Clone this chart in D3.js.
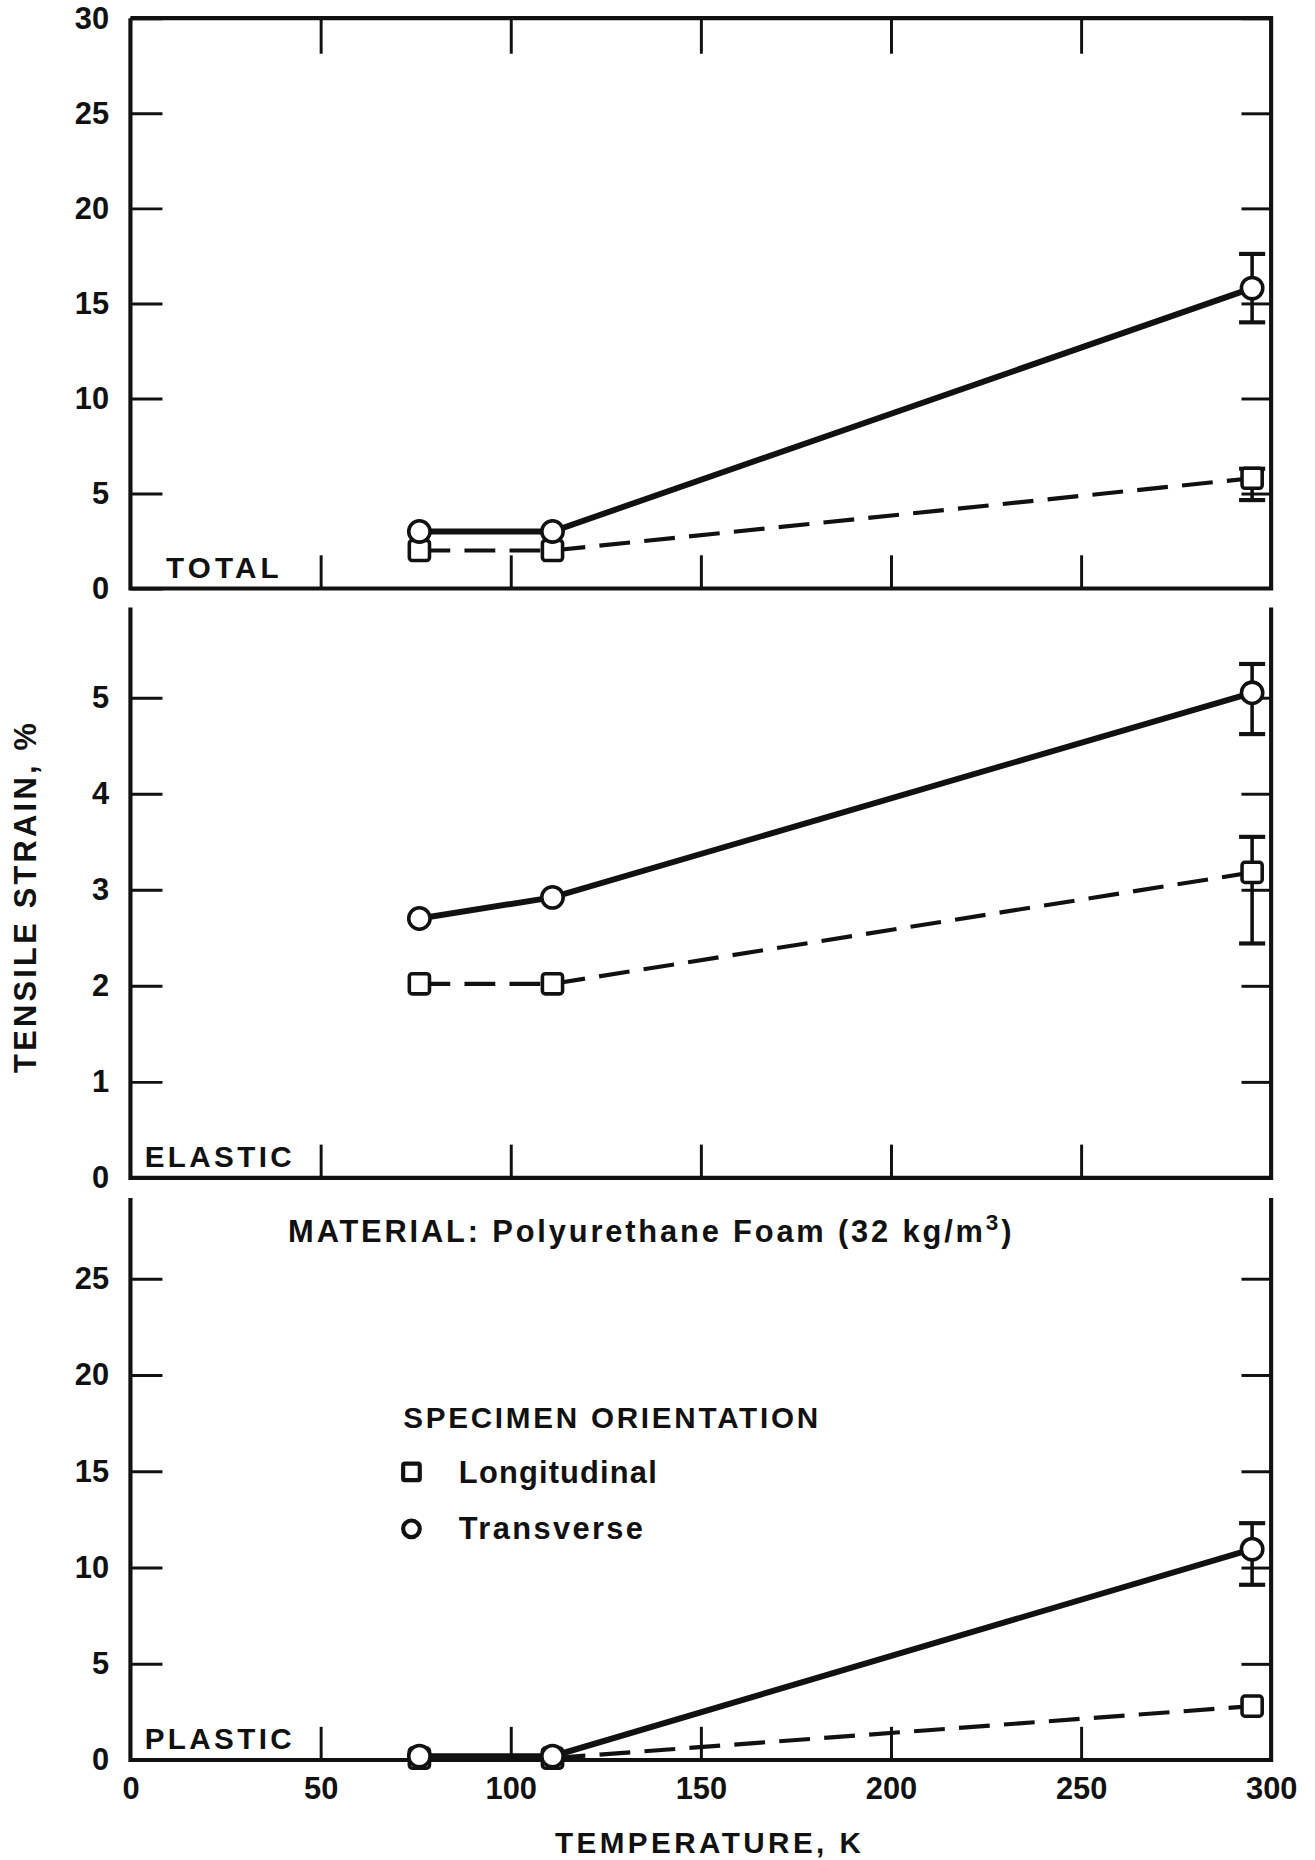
<!DOCTYPE html>
<meta charset="utf-8">
<script src="https://d3js.org/d3.v7.min.js"></script>
<style>
  body { margin: 0; background: #fff; overflow: hidden; }
  svg { display: block; }
  text { font-family: "Liberation Sans", Arial, sans-serif; font-weight: 700; fill: #111; }
</style>
<div id="my_dataviz"></div>
<script>

    // data
    var temps = [76, 111, 295];
    var totalLong = [2.0, 2.0, 5.8];
    var totalTrans = [3.0, 3.0, 15.8];
    var elasticLong = [2.02, 2.02, 3.18];
    var elasticTrans = [2.7, 2.92, 5.05];
    var plasticLong = [0.1, 0.1, 2.8];
    var plasticTrans = [0.2, 0.2, 10.95];

    // error bars [low, high] at 295 K
    var totalLongErr = [4.65, 6.3];
    var totalTransErr = [14.0, 17.6];
    var elasticLongErr = [2.44, 3.55];
    var elasticTransErr = [4.62, 5.35];
    var plasticTransErr = [9.1, 12.3];

    // tick labels
    var xTicks = [0, 50, 100, 150, 200, 250, 300];
    var totalTicks = [0, 5, 10, 15, 20, 25, 30];
    var elasticTicks = [0, 1, 2, 3, 4, 5];
    var plasticTicks = [0, 5, 10, 15, 20, 25];

    // drawing is laid out on a ~1109 wide grid, then scaled to the window
    var W = 1109, H = 1568;
    var svg = d3.select("#my_dataviz")
        .append("svg")
        .attr("width", 1315)
        .attr("height", 1860)
        .attr("viewBox", "0 0 " + W + " " + H);

    var x = d3.scaleLinear().domain([0, 300]).range([110, 1072]);
    var inner = xTicks.slice(1, -1);

    function thinAxis(g) {
        g.select(".domain").remove();
        g.selectAll(".tick line").attr("stroke", "#111").attr("stroke-width", 2.5);
        g.selectAll(".tick text").style("font-size", "26px");
    }

    function panel(p) {
        var y = d3.scaleLinear().domain([0, p.max]).range([p.bottom, p.top]);
        var g = svg.append("g");

        // left axis, ticks point inwards
        g.append("g")
            .attr("transform", "translate(" + x(0) + ",0)")
            .call(d3.axisLeft(y).tickValues(p.ticks).tickFormat(d3.format("d"))
                .tickSizeInner(-27).tickSizeOuter(0).tickPadding(18))
            .call(thinAxis);

        g.append("g")
            .attr("transform", "translate(" + x(300) + ",0)")
            .call(d3.axisRight(y).tickValues(p.ticks.slice(1)).tickSizeInner(-25).tickSizeOuter(0).tickFormat(""))
            .call(thinAxis);

        g.append("g")
            .attr("transform", "translate(0," + y(0) + ")")
            .call(d3.axisBottom(x).tickValues(inner).tickSizeInner(-28).tickSizeOuter(0).tickFormat(""))
            .call(thinAxis);

        if (p.boxTop) {
            g.append("g")
                .attr("transform", "translate(0," + y(p.max) + ")")
                .call(d3.axisTop(x).tickValues(inner).tickSizeInner(-30).tickSizeOuter(0).tickFormat(""))
                .call(thinAxis);
        }

        // frame
        var frame = [[x(0), y(p.max)], [x(0), y(0)], [x(300), y(0)], [x(300), y(p.max)]];
        if (p.boxTop) frame.push([x(0), y(p.max)]);
        g.append("path")
            .attr("d", d3.line()(frame))
            .attr("fill", "none")
            .attr("stroke", "#111")
            .attr("stroke-width", 3.5);

        g.append("text")
            .attr("x", p.labelX)
            .attr("y", y(0) - 9)
            .attr("textLength", p.labelW)
            .attr("lengthAdjust", "spacing")
            .style("font-size", "25px")
            .text(p.name);

        var line = d3.line()
            .x(function (d, i) { return x(temps[i]); })
            .y(function (d) { return y(d); });

        g.append("path")
            .datum(p.long)
            .attr("fill", "none")
            .attr("stroke", "#111")
            .attr("stroke-width", 3.5)
            .attr("stroke-dasharray", "26,12")
            .attr("d", line);

        g.append("path")
            .datum(p.trans)
            .attr("fill", "none")
            .attr("stroke", "#111")
            .attr("stroke-width", 5)
            .attr("d", line);

        // error bars at the last temperature
        [p.longErr, p.transErr].forEach(function (e) {
            if (!e) return;
            var ex = x(temps[2]);
            g.append("line").attr("x1", ex).attr("x2", ex).attr("y1", y(e[0])).attr("y2", y(e[1]))
                .attr("stroke", "#111").attr("stroke-width", 3);
            e.forEach(function (v) {
                g.append("line").attr("x1", ex - 11).attr("x2", ex + 11).attr("y1", y(v)).attr("y2", y(v))
                    .attr("stroke", "#111").attr("stroke-width", 3.5);
            });
        });

        g.selectAll(".sq")
            .data(p.long)
            .join("rect")
            .attr("x", function (d, i) { return x(temps[i]) - 8.5; })
            .attr("y", function (d) { return y(d) - 8.5; })
            .attr("width", 17)
            .attr("height", 17)
            .attr("rx", 2.5)
            .attr("fill", "#fff")
            .attr("stroke", "#111")
            .attr("stroke-width", 3);

        g.selectAll(".ci")
            .data(p.trans)
            .join("circle")
            .attr("cx", function (d, i) { return x(temps[i]); })
            .attr("cy", function (d) { return y(d); })
            .attr("r", 9)
            .attr("fill", "#fff")
            .attr("stroke", "#111")
            .attr("stroke-width", 3);

        return y;
    }

    panel({ name: "TOTAL", max: 30, top: 15, bottom: 496, ticks: totalTicks, boxTop: true,
        long: totalLong, trans: totalTrans, longErr: totalLongErr, transErr: totalTransErr,
        labelX: 140, labelW: 95 });

    panel({ name: "ELASTIC", max: 481 / 81, top: 512, bottom: 993, ticks: elasticTicks, boxTop: false,
        long: elasticLong, trans: elasticTrans, longErr: elasticLongErr, transErr: elasticTransErr,
        labelX: 122, labelW: 124 });

    var yP = panel({ name: "PLASTIC", max: 474 / 16.24, top: 1010, bottom: 1484, ticks: plasticTicks, boxTop: false,
        long: plasticLong, trans: plasticTrans, longErr: null, transErr: plasticTransErr,
        labelX: 122, labelW: 124 });

    // temperature labels under the last panel
    svg.append("g")
        .attr("transform", "translate(0," + yP(0) + ")")
        .call(d3.axisBottom(x).tickValues(xTicks).tickSize(0).tickPadding(14))
        .call(thinAxis);

    svg.append("text")
        .attr("x", 597)
        .attr("y", 1562)
        .attr("text-anchor", "middle")
        .attr("textLength", 258)
        .attr("lengthAdjust", "spacing")
        .style("font-size", "25px")
        .text("TEMPERATURE, K");

    svg.append("text")
        .attr("transform", "translate(30,757) rotate(-90)")
        .attr("text-anchor", "middle")
        .attr("textLength", 295)
        .attr("lengthAdjust", "spacing")
        .style("font-size", "26px")
        .text("TENSILE STRAIN, %");

    var mat = svg.append("text")
        .attr("x", 243)
        .attr("y", 1047)
        .style("font-size", "26px")
        .style("letter-spacing", "2.4px");
    mat.append("tspan").text("MATERIAL: Polyurethane Foam (32 kg/m");
    mat.append("tspan").attr("dy", -10).style("font-size", "19px").text("3");
    mat.append("tspan").attr("dy", 10).text(")");

    // legend
    svg.append("text")
        .attr("x", 340)
        .attr("y", 1204)
        .attr("textLength", 350)
        .attr("lengthAdjust", "spacing")
        .style("font-size", "25px")
        .text("SPECIMEN ORIENTATION");

    svg.append("rect")
        .attr("x", 340).attr("y", 1234).attr("width", 14).attr("height", 14).attr("rx", 1.5)
        .attr("fill", "#fff").attr("stroke", "#111").attr("stroke-width", 3.5);
    svg.append("text").attr("x", 387).attr("y", 1250).style("font-size", "26px")
        .style("letter-spacing", "1px").text("Longitudinal");

    svg.append("circle")
        .attr("cx", 347).attr("cy", 1289).attr("r", 7)
        .attr("fill", "#fff").attr("stroke", "#111").attr("stroke-width", 3.5);
    svg.append("text").attr("x", 387).attr("y", 1298).style("font-size", "26px")
        .style("letter-spacing", "2px").text("Transverse");

</script>
